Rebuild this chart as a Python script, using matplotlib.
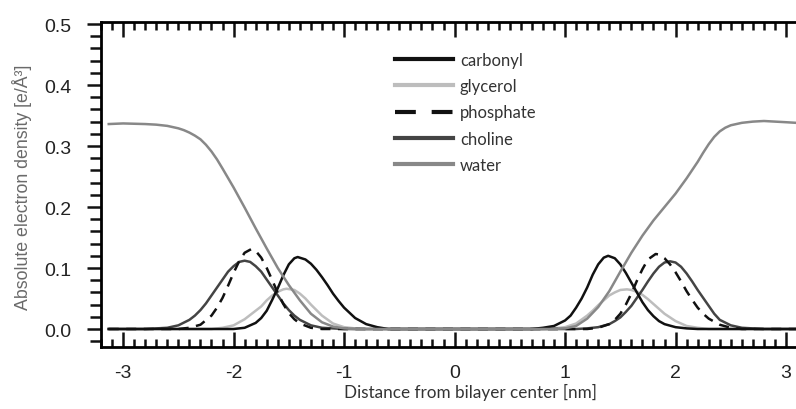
import numpy as np
import matplotlib
matplotlib.use("Agg")
import matplotlib.pyplot as plt
from matplotlib.ticker import MultipleLocator, FormatStrFormatter

plt.rcParams["axes.unicode_minus"] = False

# values (distance in nm, density in e/A^3)
carbonyl_x = [-3.13, -2.0, -1.9, -1.8, -1.75, -1.7, -1.65, -1.6, -1.55, -1.5,
              -1.45, -1.42, -1.35, -1.3, -1.25, -1.2, -1.15, -1.1, -1.05, -1.0,
              -0.9, -0.8, -0.7, -0.6, 0.7, 0.8, 0.9, 1.0, 1.05, 1.1,
              1.15, 1.2, 1.25, 1.3, 1.35, 1.39, 1.45, 1.5, 1.55, 1.6,
              1.65, 1.7, 1.75, 1.8, 1.85, 1.9, 2.0, 2.1, 2.2, 3.09]
carbonyl_y = [0, 0, 0.002, 0.010, 0.018, 0.030, 0.048, 0.067, 0.088, 0.106,
              0.116, 0.118, 0.114, 0.107, 0.097, 0.085, 0.072, 0.058, 0.046, 0.035,
              0.018, 0.008, 0.003, 0, 0, 0.002, 0.005, 0.014, 0.022, 0.035,
              0.050, 0.068, 0.089, 0.106, 0.117, 0.120, 0.116, 0.106, 0.092, 0.076,
              0.060, 0.044, 0.031, 0.021, 0.013, 0.008, 0.003, 0.001, 0, 0]

glycerol_x = [-3.13, -2.2, -2.1, -2.0, -1.9, -1.8, -1.75, -1.7, -1.65, -1.6,
              -1.55, -1.52, -1.45, -1.4, -1.35, -1.3, -1.2, -1.1, -1.0, -0.9,
              -0.8, 0.8, 0.9, 1.0, 1.1, 1.2, 1.25, 1.3, 1.35, 1.4,
              1.45, 1.5, 1.56, 1.6, 1.65, 1.7, 1.75, 1.8, 1.9, 2.0,
              2.1, 2.2, 2.3, 3.09]
glycerol_y = [0, 0, 0.002, 0.006, 0.016, 0.030, 0.037, 0.047, 0.055, 0.061,
              0.065, 0.066, 0.064, 0.058, 0.050, 0.040, 0.022, 0.009, 0.003, 0.001,
              0, 0, 0.001, 0.003, 0.009, 0.022, 0.030, 0.039, 0.047, 0.055,
              0.060, 0.064, 0.065, 0.064, 0.061, 0.056, 0.049, 0.041, 0.025, 0.013,
              0.005, 0.002, 0, 0]

phosphate_x = [-3.13, -2.5, -2.4, -2.3, -2.2, -2.15, -2.1, -2.05, -2.0, -1.95,
               -1.9, -1.84, -1.8, -1.75, -1.7, -1.65, -1.6, -1.55, -1.5, -1.45,
               -1.4, -1.3, -1.2, 1.2, 1.3, 1.4, 1.45, 1.5, 1.55, 1.6,
               1.65, 1.7, 1.75, 1.82, 1.85, 1.9, 1.95, 2.0, 2.05, 2.1,
               2.15, 2.2, 2.25, 2.3, 2.4, 2.5, 2.6, 3.09]
phosphate_y = [0, 0, 0.002, 0.007, 0.022, 0.035, 0.051, 0.071, 0.092, 0.111,
               0.125, 0.131, 0.128, 0.117, 0.100, 0.080, 0.059, 0.041, 0.026, 0.016,
               0.009, 0.002, 0, 0, 0.002, 0.008, 0.015, 0.025, 0.040, 0.058,
               0.079, 0.098, 0.114, 0.123, 0.122, 0.116, 0.106, 0.093, 0.078, 0.062,
               0.048, 0.035, 0.025, 0.017, 0.007, 0.002, 0, 0]

choline_x = [-3.13, -2.8, -2.7, -2.6, -2.5, -2.4, -2.35, -2.3, -2.25, -2.2,
             -2.15, -2.1, -2.05, -2.0, -1.95, -1.9, -1.85, -1.8, -1.75, -1.7,
             -1.65, -1.6, -1.55, -1.5, -1.45, -1.4, -1.3, -1.2, -1.1, -1.0,
             1.1, 1.2, 1.3, 1.4, 1.45, 1.5, 1.55, 1.6, 1.65, 1.7,
             1.75, 1.8, 1.85, 1.9, 1.95, 2.0, 2.05, 2.1, 2.15, 2.2,
             2.25, 2.3, 2.35, 2.4, 2.5, 2.6, 2.7, 2.8, 3.09]
choline_y = [0, 0, 0.001, 0.002, 0.006, 0.015, 0.022, 0.031, 0.042, 0.055,
             0.068, 0.081, 0.094, 0.103, 0.110, 0.112, 0.110, 0.103, 0.094, 0.081,
             0.068, 0.055, 0.042, 0.031, 0.022, 0.015, 0.006, 0.002, 0.001, 0,
             0, 0.001, 0.003, 0.008, 0.013, 0.019, 0.028, 0.038, 0.051, 0.064,
             0.078, 0.091, 0.102, 0.109, 0.111, 0.109, 0.102, 0.091, 0.078, 0.064,
             0.051, 0.038, 0.025, 0.015, 0.006, 0.002, 0.001, 0, 0]

water_x = [-3.13, -3.0, -2.8, -2.7, -2.6, -2.5, -2.45, -2.4, -2.35, -2.3,
           -2.25, -2.2, -2.15, -2.1, -2.0, -1.9, -1.8, -1.7, -1.6, -1.5,
           -1.4, -1.3, -1.2, -1.1, -1.0, -0.9, 0.9, 1.0, 1.1, 1.2,
           1.3, 1.4, 1.5, 1.6, 1.7, 1.8, 1.9, 2.0, 2.1, 2.2,
           2.25, 2.3, 2.35, 2.4, 2.45, 2.5, 2.6, 2.7, 2.8, 3.0, 3.09]
water_y = [0.336, 0.337, 0.336, 0.335, 0.333, 0.329, 0.326, 0.322, 0.317, 0.311,
           0.302, 0.291, 0.278, 0.263, 0.232, 0.199, 0.165, 0.132, 0.100, 0.072,
           0.047, 0.025, 0.011, 0.004, 0.001, 0, 0, 0.001, 0.005, 0.017,
           0.036, 0.062, 0.094, 0.125, 0.153, 0.178, 0.200, 0.222, 0.247, 0.274,
           0.289, 0.303, 0.315, 0.324, 0.330, 0.334, 0.338, 0.340, 0.341, 0.339, 0.338]

series = [
    ("carbonyl", carbonyl_x, carbonyl_y, "#111111", "-", 4),
    ("glycerol", glycerol_x, glycerol_y, "#bdbdbd", "-", 1),
    ("phosphate", phosphate_x, phosphate_y, "#111111", (0, (4, 3)), 3),
    ("choline", choline_x, choline_y, "#444444", "-", 2),
    ("water", water_x, water_y, "#888888", "-", 5),
]

fig = plt.figure(figsize=(7.96, 4.10), dpi=100)
ax = fig.add_axes([101 / 796, 62 / 410, 695 / 796, 325 / 410])

for name, xs, ys, color, ls, z in series:
    ax.plot(xs, ys, color=color, linestyle=ls, linewidth=1.8, label=name, zorder=z)

ax.set_xlim(-3.2, 3.09)
ax.set_ylim(-0.0295, 0.5033)

ax.spines["right"].set_visible(False)
for s in ["left", "top", "bottom"]:
    ax.spines[s].set_linewidth(2.0)

ax.xaxis.set_major_locator(MultipleLocator(1))
ax.xaxis.set_minor_locator(MultipleLocator(0.1))
ax.yaxis.set_major_locator(MultipleLocator(0.1))
ax.yaxis.set_minor_locator(MultipleLocator(0.02))
ax.yaxis.set_major_formatter(FormatStrFormatter("%.1f"))

tick_font = "Liberation Sans"
ax.tick_params(axis="x", which="both", direction="in", top=True, bottom=True, width=1.8, colors="#111111")
ax.tick_params(axis="x", which="major", length=11, pad=12, labelsize=14)
ax.tick_params(axis="x", which="minor", length=5.5)
ax.tick_params(axis="y", which="both", direction="out", left=True, right=False, width=1.8, colors="#111111")
ax.tick_params(axis="y", which="major", length=10, pad=11, labelsize=14)
ax.tick_params(axis="y", which="minor", length=8)
for lab in ax.get_xticklabels() + ax.get_yticklabels():
    lab.set_fontfamily(tick_font)
    lab.set_color("#222222")

fig.text(470 / 796, 1 - 392 / 410, "Distance from bilayer center [nm]", ha="center", va="center",
         fontsize=12.3, family="Lato", color="#333333")
fig.text(22 / 796, 1 - 187 / 410, "Absolute electron density [e/Å³]", ha="center", va="center",
         rotation=90, fontsize=12.8, family="Liberation Sans", color="#6a6a6a")

leg = ax.legend(loc="upper left", bbox_to_anchor=((388 - 101) / 695, (348 - 46) / 325), frameon=False,
                prop={"family": "Lato", "size": 12}, handlelength=3.5, handletextpad=0.42, labelspacing=0.62,
                borderaxespad=0)
for h in leg.legend_handles:
    h.set_linewidth(3.0)
leg.legend_handles[2].set_dashes((5, 3.8))
for t in leg.get_texts():
    t.set_color("#333333")

fig.savefig("out.png", dpi=100)
